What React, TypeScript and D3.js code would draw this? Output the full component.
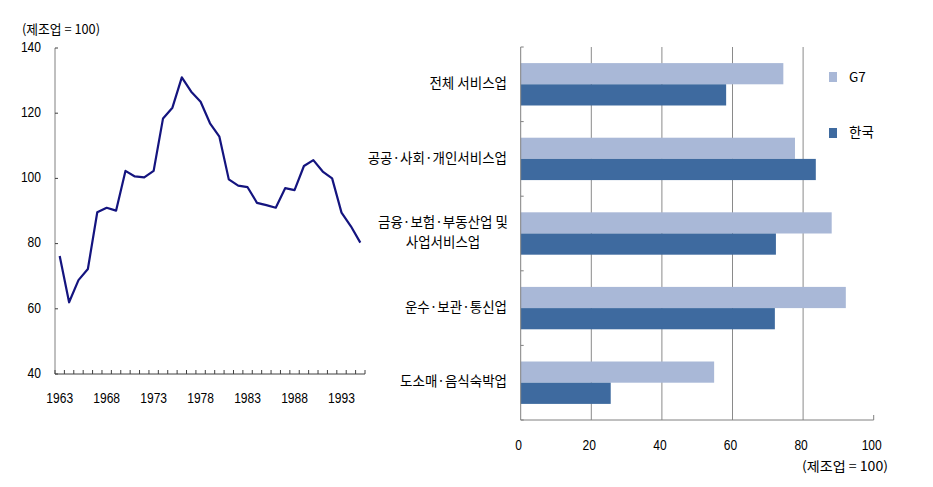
import React from "react";
import * as d3 from "d3";

const years: number[] = d3.range(1963, 1996);
const ratio: number[] = [
  76.2, 62.0, 68.8, 72.2, 89.6, 91.0, 90.1, 102.3, 100.6, 100.3, 102.3,
  118.4, 121.7, 131.0, 126.6, 123.5, 116.9, 112.8, 99.7, 97.8, 97.3,
  92.5, 91.8, 91.0, 97.0, 96.4, 103.8, 105.6, 102.1, 100.0, 89.5, 85.3, 80.3,
];
const yearLabels: number[] = [1963, 1968, 1973, 1978, 1983, 1988, 1993];
const leftTicks: number[] = [40, 60, 80, 100, 120, 140];

const categories: string[][] = [
  ["전체 서비스업"],
  ["공공·사회·개인서비스업"],
  ["금융·보험·부동산업 및", "사업서비스업"],
  ["운수·보관·통신업"],
  ["도소매·음식숙박업"],
];
const seriesNames: string[] = ["G7", "한국"];
const g7Values: number[] = [74.4, 77.7, 88.1, 92.1, 54.8];
const koreaValues: number[] = [58.2, 83.6, 72.3, 72.0, 25.5];
const barTicks: number[] = [0, 20, 40, 60, 80, 100];
const unitLabel = "(제조업 = 100)";

const colors = ["#A9B8D7", "#3E6A9F"];
const FONT = "'Liberation Sans', 'Noto Sans CJK KR', sans-serif";
const KFONT = "'Noto Sans CJK KR', 'Liberation Sans', sans-serif";

function Num(props: { x: number; y: number; s: string | number; anchor?: string }) {
  const s = String(props.s);
  return (
    <text
      x={props.x}
      y={props.y}
      textAnchor={props.anchor || "middle"}
      dominantBaseline="middle"
      fontFamily={FONT}
      fontSize={14}
      textLength={s.length * 6.7}
      lengthAdjust="spacingAndGlyphs"
      fill="#000"
    >
      {s}
    </text>
  );
}

export default function App() {
  // Left line chart
  const xL = d3.scaleBand<number>().domain(years).range([55, 365]).padding(0);
  const yL = d3.scaleLinear().domain([40, 140]).range([374, 48]);
  const xc = (yr: number) => (xL(yr) as number) + xL.bandwidth() / 2;
  const line = d3
    .line<number>()
    .x((_, i) => xc(years[i]))
    .y((v) => yL(v));
  const tickXs = [...years.map((y) => xL(y) as number), 365];

  // Right bar chart
  const catKeys = categories.map((c) => c.join(" "));
  const yB = d3.scaleBand<string>().domain(catKeys).range([47, 420]).padding(0);
  const ySub = d3
    .scaleBand<string>()
    .domain(seriesNames)
    .range([0, yB.bandwidth()])
    .paddingInner(0)
    .paddingOuter(0.76);
  const xB = d3.scaleLinear().domain([0, 100]).range([520.7, 873.7]);
  const values = [g7Values, koreaValues];
  const catTicks = [...catKeys.map((k) => yB(k) as number), 420];

  return (
    <svg
      width={933}
      height={487}
      style={{ display: "block", position: "absolute", left: 0, top: 0 }}
    >
      <rect x={0} y={0} width={933} height={487} fill="#fff" />
      {/* Left chart */}
      <text
        x={22}
        y={30}
        fontFamily={KFONT}
        fontSize={13}
        dominantBaseline="middle"
        textLength={78}
        lengthAdjust="spacingAndGlyphs"
        fill="#000"
      >
        {unitLabel}
      </text>
      <line x1={55} x2={55} y1={yL(140)} y2={yL(40)} stroke="#808080" strokeWidth={1} />
      {leftTicks.map((t) => (
        <g key={t}>
          <line x1={55} x2={58} y1={yL(t)} y2={yL(t)} stroke="#404040" />
          <Num x={41} y={yL(t)} s={t} anchor="end" />
        </g>
      ))}
      <line x1={55} x2={365} y1={374} y2={374} stroke="#404040" />
      {tickXs.map((x, i) => (
        <line key={i} x1={x} x2={x} y1={374} y2={370} stroke="#404040" />
      ))}
      {yearLabels.map((yr) => (
        <Num key={yr} x={xc(yr)} y={399} s={yr} />
      ))}
      <path d={line(ratio) as string} fill="none" stroke="#14147F" strokeWidth={2.2} strokeLinejoin="round" />

      {/* Right chart */}
      {barTicks.slice(1, -1).map((t) => (
        <line key={t} x1={xB(t)} x2={xB(t)} y1={47} y2={420} stroke="#8a8a8a" />
      ))}
      {categories.map((lines, ci) => {
        const key = catKeys[ci];
        const y0 = yB(key) as number;
        return (
          <g key={key}>
            {seriesNames.map((s, si) => (
              <rect
                key={s}
                x={xB(0)}
                y={y0 + (ySub(s) as number)}
                width={xB(values[si][ci]) - xB(0)}
                height={ySub.bandwidth()}
                fill={colors[si]}
              />
            ))}
            {lines.length === 1 ? (
              <text x={507} y={y0 + yB.bandwidth() / 2} textAnchor="end" dominantBaseline="middle" fontFamily={KFONT} fontSize={13.5} fill="#000">
                {lines[0]}
              </text>
            ) : (
              lines.map((l, li) => (
                <text
                  key={li}
                  x={443}
                  y={y0 + yB.bandwidth() / 2 + (li - 0.5) * 20}
                  textAnchor="middle"
                  dominantBaseline="middle"
                  fontFamily={KFONT}
                  fontSize={13.5}
                  fill="#000"
                >
                  {l}
                </text>
              ))
            )}
          </g>
        );
      })}
      <line x1={xB(0)} x2={xB(0)} y1={47} y2={420} stroke="#808080" />
      {catTicks.map((y, i) => (
        <line key={i} x1={xB(0)} x2={xB(0) + 3} y1={y} y2={y} stroke="#808080" />
      ))}
      <line x1={xB(0)} x2={xB(100)} y1={420} y2={420} stroke="#808080" />
      <line x1={xB(100)} x2={xB(100)} y1={415} y2={420} stroke="#808080" />
      {barTicks.map((t) => (
        <Num key={t} x={xB(t) - 2} y={446} s={t} />
      ))}
      <text
        x={888}
        y={467}
        textAnchor="end"
        dominantBaseline="middle"
        fontFamily={KFONT}
        fontSize={13}
        textLength={86}
        lengthAdjust="spacingAndGlyphs"
        fill="#000"
      >
        {unitLabel}
      </text>
      {/* Legend */}
      {seriesNames.map((s, i) => (
        <g key={s}>
          <rect x={829} y={72 + i * 56} width={8} height={10} fill={colors[i]} />
          <text x={849} y={78 + i * 55} dominantBaseline="middle" fontFamily={KFONT} fontSize={13.5} fill="#000">
            {s}
          </text>
        </g>
      ))}
    </svg>
  );
}
